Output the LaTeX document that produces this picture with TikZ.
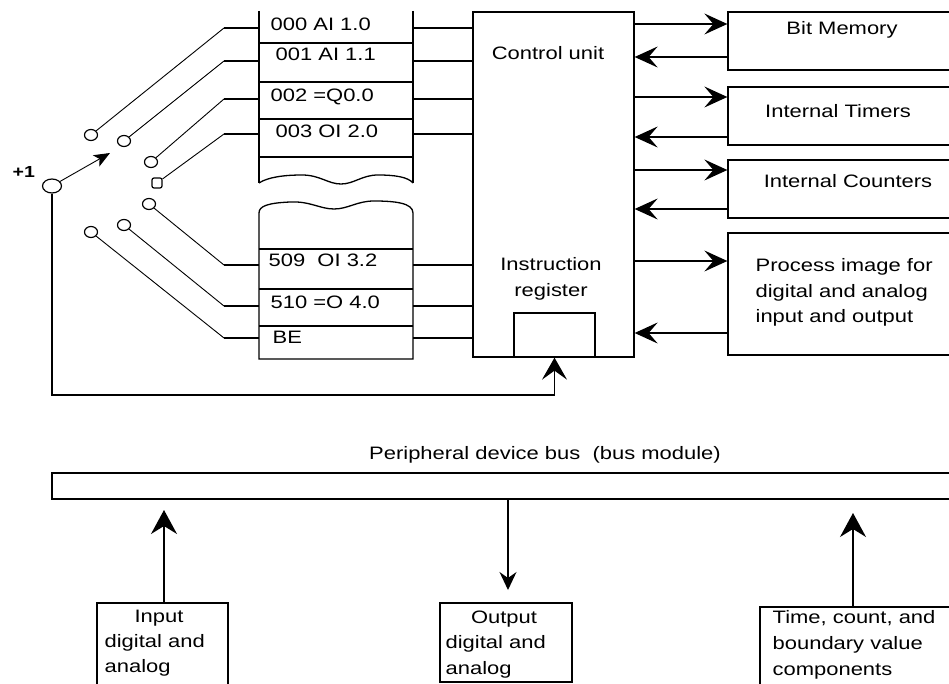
\documentclass[tikz,border=0pt]{standalone}
\usepackage{fontspec}
\setmainfont{Liberation Sans}[FakeStretch=1.22]
\usetikzlibrary{arrows.meta,shapes.geometric}

\begin{document}
\begin{tikzpicture}[x=1pt,y=-1pt,line width=1.3pt,
  box/.style={draw,rectangle,inner sep=0pt,line width=1.3pt},
  lbl/.style={inner sep=0pt,anchor=base west,font=\fontsize{18}{25}\selectfont},
  clbl/.style={lbl,anchor=base},
  wire/.style={line width=0.9pt},
  contact/.style={draw,ellipse,inner sep=0pt,minimum width=13pt,minimum height=11pt,line width=1.2pt},
  rarr/.style={-{Stealth[length=23pt,width=21pt,inset=9pt]}},
  uarr/.style={-{Stealth[length=24pt,width=26pt,inset=8pt]}},
  darr/.style={-{Stealth[length=18pt,width=17pt,inset=6pt]}}]

\useasboundingbox (0,0) rectangle (949,684);
\clip (0,0) rectangle (949,684);

% ---- program memory (upper part, open at the top)
\draw (259,11) -- (259,183);
\draw (413,11) -- (413,183);
\foreach \y in {43,82,119,157} \draw (259,\y) -- (413,\y);
\draw (259,183) .. controls (268,177) and (285,175) .. (302,175)
      .. controls (320,175) and (328,184) .. (341,184)
      .. controls (354,184) and (362,175) .. (378,175)
      .. controls (395,175) and (408,177) .. (413,183);

% ---- program memory (lower part)
\draw (259,359) -- (259,213) .. controls (259,206) and (268,203) .. (290,202)
      .. controls (310,201) and (320,209) .. (334,209)
      .. controls (348,209) and (357,201) .. (374,201)
      .. controls (395,201) and (413,203) .. (413,213) -- (413,359) -- cycle;
\foreach \y in {249,289,326} \draw (259,\y) -- (413,\y);

% ---- memory cell contents
\node[lbl] (m0) at (270,31) {000 AI 1.0};
\node[lbl] (m1) at (275,61) {001 AI 1.1};
\node[lbl] (m2) at (270,102) {002 =Q0.0};
\node[lbl] (m3) at (275,138) {003 OI 2.0};
\node[lbl] (m4) at (268,267) {509\ \ OI 3.2};
\node[lbl] (m5) at (270,308) {510 =O 4.0};
\node[lbl] (m6) at (272,343) {BE};

% ---- control unit with instruction register
\node[box,minimum width=161pt,minimum height=345pt] (cu) at (553.5,184.5) {};
\node[box,minimum width=81pt,minimum height=44pt] (reg) at (554.5,335) {};
\node[clbl] (cut) at (548,60) {Control unit};
\node[clbl] (ir1) at (551,270) {Instruction};
\node[clbl] (ir2) at (551,296) {register};

% ---- internal memory areas
\node[box,minimum width=234pt,minimum height=58pt] (bm) at (845,41) {};
\node[box,minimum width=234pt,minimum height=58pt] (it) at (845,116) {};
\node[box,minimum width=234pt,minimum height=58pt] (ic) at (845,189) {};
\node[box,minimum width=234pt,minimum height=122pt] (pi) at (845,294) {};
\node[clbl] (bmt) at (842,35) {Bit Memory};
\node[clbl] (itt) at (838,118) {Internal Timers};
\node[clbl] (ict) at (848,188) {Internal Counters};
\node[lbl] (pi1) at (755,272) {Process image for};
\node[lbl] (pi2) at (755,297) {digital and analog};
\node[lbl] (pi3) at (755,322) {input and output};

% ---- data paths between control unit and memory areas
\draw[rarr] (cu.east |- 0,24) -- (bm.west |- 0,24);
\draw[rarr] (bm.west |- 0,57) -- (cu.east |- 0,57);
\draw[rarr] (cu.east |- 0,97) -- (it.west |- 0,97);
\draw[rarr] (it.west |- 0,137) -- (cu.east |- 0,137);
\draw[rarr] (cu.east |- 0,170) -- (ic.west |- 0,170);
\draw[rarr] (ic.west |- 0,209) -- (cu.east |- 0,209);
\draw[rarr] (cu.east |- 0,261) -- (pi.west |- 0,261);
\draw[rarr] (pi.west |- 0,333) -- (cu.east |- 0,333);

% ---- step switch and the wires to the memory cells
\foreach \i/\y in {0/28,1/61,2/99,3/134,4/265,5/306,6/338}{
  \coordinate (k\i) at (224,\y);
  \coordinate (sl\i) at (259,\y);
  \coordinate (sr\i) at (413,\y);
}
\node[contact] (c0) at (91,135) {};
\node[contact] (c1) at (124,141) {};
\node[contact] (c2) at (151,162) {};
\node[draw,rectangle,rounded corners=2pt,inner sep=0pt,minimum size=10pt,line width=1.2pt] (c3) at (157,183) {};
\node[contact] (c4) at (149,204) {};
\node[contact] (c5) at (124,225) {};
\node[contact] (c6) at (91,232) {};
\foreach \i in {0,...,6}{
  \draw[wire] (c\i) -- (k\i);
  \draw (k\i) -- (sl\i);
  \draw (sr\i) -- (cu.west |- sr\i);
}

\node[contact,minimum width=19pt,minimum height=14pt] (p) at (52,186) {};
\node[inner sep=0pt,anchor=base west,font=\fontsize{16}{18}\selectfont\bfseries] (plus) at (12,178) {+1};
\coordinate (sw) at (110,153);
\draw[wire,-{Stealth[length=16pt,width=13pt,inset=4pt]}] (p) -- (sw);

% ---- step counter feedback into the instruction register
\coordinate (lp) at (52,395);
\draw[-{Stealth[length=22pt,width=25pt,inset=9pt]}] (p) -- (lp) -| (reg.south);

% ---- peripheral bus and modules
\node[clbl] (bust) at (545,459) {Peripheral device bus\ \ (bus module)};
\node[box,minimum width=910pt,minimum height=26pt] (bus) at (507,486) {};

\node[box,minimum width=131pt,minimum height=97pt] (in) at (162.5,651.5) {};
\node[clbl] (in1) at (159,622) {Input};
\node[lbl] (in2) at (104,647) {digital and};
\node[lbl] (in3) at (104,672) {analog};

\node[box,minimum width=132pt,minimum height=79pt] (out) at (506,642.5) {};
\node[clbl] (out1) at (504,623) {Output};
\node[lbl] (out2) at (445,648) {digital and};
\node[lbl] (out3) at (445,674) {analog};

\node[box,minimum width=202pt,minimum height=93pt] (tm) at (861,653.5) {};
\node[lbl] (tm1) at (772,623) {Time, count, and};
\node[lbl] (tm2) at (772,649) {boundary value};
\node[lbl] (tm3) at (772,675) {components};

\coordinate (inTip) at (164,510);
\coordinate (outTip) at (508,590);
\coordinate (tmTip) at (853,513);
\draw[uarr] (in.north -| inTip) -- (inTip);
\draw[darr] (bus.south -| outTip) -- (outTip);
\draw[uarr] (tm.north -| tmTip) -- (tmTip);
\end{tikzpicture}
\end{document}
